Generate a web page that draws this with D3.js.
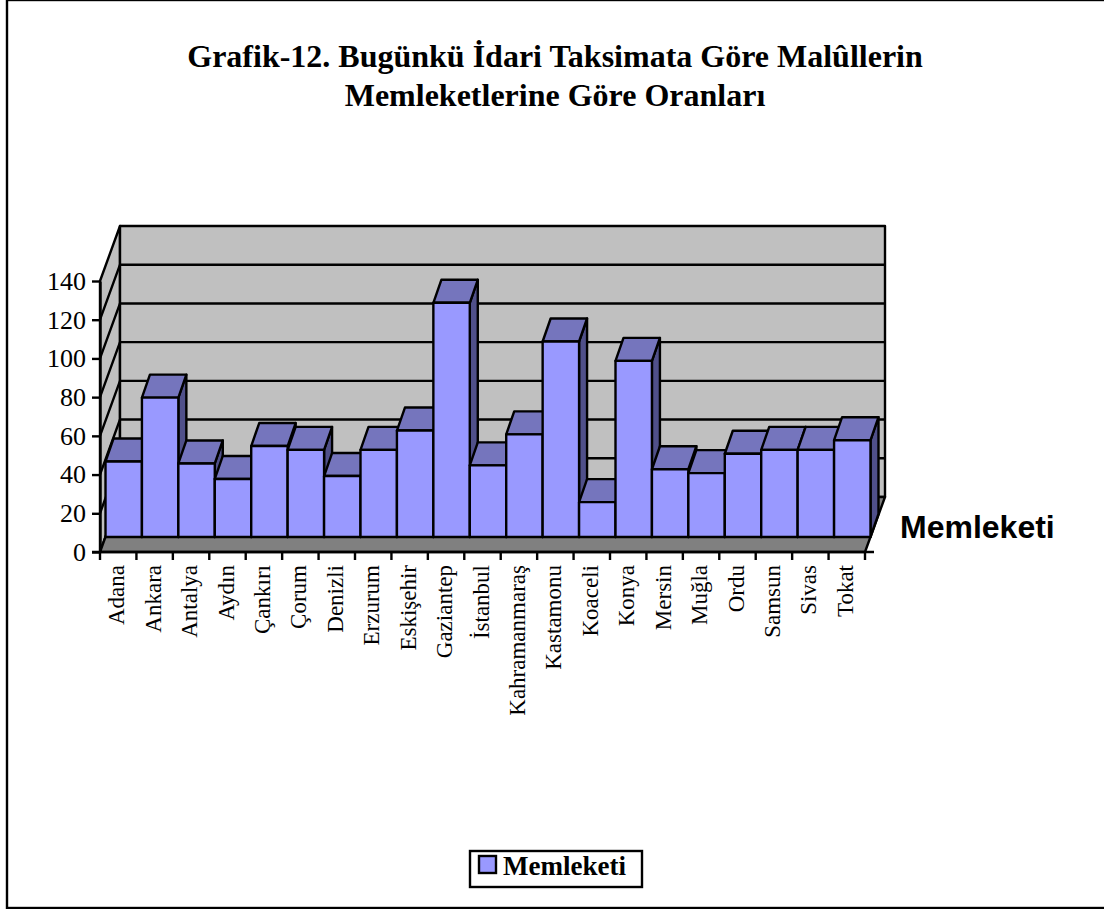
<!DOCTYPE html>
<html>
<head>
<meta charset="utf-8">
<script src="https://cdn.jsdelivr.net/npm/d3@7"></script>
<style>
  html, body { margin: 0; padding: 0; background: #fff; overflow: hidden; }
  text { fill: #000; }
</style>
</head>
<body>
<div id="chart"></div>
<script>
/*
 * Data
 *****************************/
const categories = ["Adana", "Ankara", "Antalya", "Aydın", "Çankırı", "Çorum", "Denizli", "Erzurum", "Eskişehir", "Gaziantep", "İstanbul", "Kahramanmaraş", "Kastamonu", "Koaceli", "Konya", "Mersin", "Muğla", "Ordu", "Samsun", "Sivas", "Tokat"];
const values = [39, 72, 38, 30, 47, 45, 31.5, 45, 55, 121, 37, 53, 101, 18, 91, 35, 33, 43, 45, 45, 50];
const yTicks = [0, 20, 40, 60, 80, 100, 120, 140];
const titleLines = ["Grafik-12. Bugünkü İdari Taksimata Göre Malûllerin", "Memleketlerine Göre Oranları"];
const seriesName = "Memleketi";

/*
 * Parameters
 *****************************/
const width = 1104, height = 909;
const serif = "'Liberation Serif', serif", sans = "'Liberation Sans', sans-serif";
const plot = {left: 100, right: 865, bottom: 552, top: 281};
const wallDepth = {x: 20, y: -55};   // front axis plane -> back wall
const barInset = {x: 5.5, y: -15};   // front axis plane -> bar front face
const barDepth = {x: 8, y: -23};
const colors = {wall: "#c0c0c0", floor: "#808080", front: "#9999ff", top: "#7575bd", side: "#50508a"};
const lineW = 2.4;

const svg = d3.select("#chart").append("svg")
  .attr("width", width)
  .attr("height", height)
  .style("display", "block");

// frame, the right edge runs off the picture
svg.append("rect")
  .attr("x", 7).attr("y", 0)
  .attr("width", 1120).attr("height", 908)
  .attr("fill", "#fff").attr("stroke", "#000").attr("stroke-width", lineW);

// title
svg.append("g").selectAll("text")
  .data(titleLines)
  .enter()
  .append("text")
  .attr("x", 555)
  .attr("y", (d, i) => 67 + i * 39)
  .attr("text-anchor", "middle")
  .style("font-family", serif)
  .style("font-weight", "bold")
  .style("font-size", "32px")
  .text(d => d);

const xScale = d3.scaleBand().domain(categories).range([plot.left, plot.right]);
const yScale = d3.scaleLinear().domain([0, 140]).range([plot.bottom, plot.top]);

const poly = pts => pts.map(p => p.join(",")).join(" ");

// left wall, back wall, floor
const walls = svg.append("g").attr("stroke", "#000").attr("stroke-width", lineW).attr("stroke-linejoin", "round");
walls.append("polygon")
  .attr("fill", colors.wall)
  .attr("points", poly([
    [plot.left, plot.bottom],
    [plot.left + wallDepth.x, plot.bottom + wallDepth.y],
    [plot.left + wallDepth.x, plot.top + wallDepth.y],
    [plot.left, plot.top]
  ]));
walls.append("polygon")
  .attr("fill", colors.wall)
  .attr("points", poly([
    [plot.left + wallDepth.x, plot.bottom + wallDepth.y],
    [plot.right + wallDepth.x, plot.bottom + wallDepth.y],
    [plot.right + wallDepth.x, plot.top + wallDepth.y],
    [plot.left + wallDepth.x, plot.top + wallDepth.y]
  ]));
walls.append("polygon")
  .attr("fill", colors.floor)
  .attr("points", poly([
    [plot.left, plot.bottom],
    [plot.right, plot.bottom],
    [plot.right + wallDepth.x, plot.bottom + wallDepth.y],
    [plot.left + wallDepth.x, plot.bottom + wallDepth.y]
  ]));

// gridlines on both walls
const grid = svg.append("g").attr("fill", "none").attr("stroke", "#000").attr("stroke-width", lineW);
grid.selectAll("path")
  .data(yTicks.slice(1, -1))
  .enter()
  .append("path")
  .attr("d", d => {
    const y = yScale(d);
    return `M${plot.left},${y}L${plot.left + wallDepth.x},${y + wallDepth.y}L${plot.right + wallDepth.x},${y + wallDepth.y}`;
  });

// bars, drawn left to right so that each one overlaps its neighbour
const barBase = plot.bottom + barInset.y;
const barHeight = d3.scaleLinear().domain([0, 140]).range([0, plot.bottom - plot.top]);
const bars = svg.append("g")
  .selectAll("g")
  .data(categories.map((name, i) => ({name, value: values[i]})))
  .enter()
  .append("g")
  .attr("stroke", "#000")
  .attr("stroke-width", lineW)
  .attr("stroke-linejoin", "round");

const barX0 = d => xScale(d.name) + barInset.x;
const barX1 = d => barX0(d) + xScale.bandwidth();
const barTop = d => barBase - barHeight(d.value);

bars.append("polygon")
  .attr("fill", colors.side)
  .attr("points", d => poly([
    [barX1(d), barBase],
    [barX1(d) + barDepth.x, barBase + barDepth.y],
    [barX1(d) + barDepth.x, barTop(d) + barDepth.y],
    [barX1(d), barTop(d)]
  ]));
bars.append("polygon")
  .attr("fill", colors.top)
  .attr("points", d => poly([
    [barX0(d), barTop(d)],
    [barX1(d), barTop(d)],
    [barX1(d) + barDepth.x, barTop(d) + barDepth.y],
    [barX0(d) + barDepth.x, barTop(d) + barDepth.y]
  ]));
bars.append("rect")
  .attr("fill", colors.front)
  .attr("x", barX0)
  .attr("y", barTop)
  .attr("width", xScale.bandwidth())
  .attr("height", d => barHeight(d.value));

// y axis
const yAxis = d3.axisLeft(yScale).tickValues(yTicks).tickSize(8).tickPadding(6).tickSizeOuter(0);
const yAxisG = svg.append("g").attr("transform", `translate(${plot.left},0)`).call(yAxis);
yAxisG.selectAll("line").attr("stroke", "#000").attr("stroke-width", lineW);
yAxisG.select(".domain").attr("stroke", "#000").attr("stroke-width", lineW);
yAxisG.selectAll("text")
  .style("font-family", serif)
  .style("font-size", "26px");

// x axis: ticks sit on the band edges, labels are rotated in the band centre
const xEdges = d3.range(categories.length + 1).map(i => plot.left + i * xScale.step());
const xAxisG = svg.append("g");
xAxisG.append("line")
  .attr("x1", plot.left - 8).attr("x2", plot.right + 9)
  .attr("y1", plot.bottom).attr("y2", plot.bottom)
  .attr("stroke", "#000").attr("stroke-width", lineW);
xAxisG.selectAll("line.tick")
  .data(xEdges)
  .enter()
  .append("line")
  .attr("class", "tick")
  .attr("x1", d => d).attr("x2", d => d)
  .attr("y1", plot.bottom).attr("y2", plot.bottom + 8)
  .attr("stroke", "#000").attr("stroke-width", lineW);
xAxisG.selectAll("text")
  .data(categories)
  .enter()
  .append("text")
  .attr("transform", d => `translate(${xScale(d) + xScale.bandwidth() / 2 + 6},${plot.bottom + 13}) rotate(-90)`)
  .attr("text-anchor", "end")
  .style("font-family", serif)
  .style("font-size", "23px")
  .text(d => d);

// axis title
svg.append("text")
  .attr("x", 900)
  .attr("y", 538)
  .style("font-family", sans)
  .style("font-weight", "bold")
  .style("font-size", "32px")
  .text(seriesName);

// legend
const legend = svg.append("g");
legend.append("rect")
  .attr("x", 470).attr("y", 851)
  .attr("width", 172).attr("height", 36)
  .attr("fill", "#fff").attr("stroke", "#000").attr("stroke-width", lineW);
legend.append("rect")
  .attr("x", 479).attr("y", 856)
  .attr("width", 17).attr("height", 17)
  .attr("fill", colors.front).attr("stroke", "#000").attr("stroke-width", lineW);
legend.append("text")
  .attr("x", 503)
  .attr("y", 875)
  .style("font-family", serif)
  .style("font-weight", "bold")
  .style("font-size", "27px")
  .text(seriesName);
</script>
</body>
</html>
